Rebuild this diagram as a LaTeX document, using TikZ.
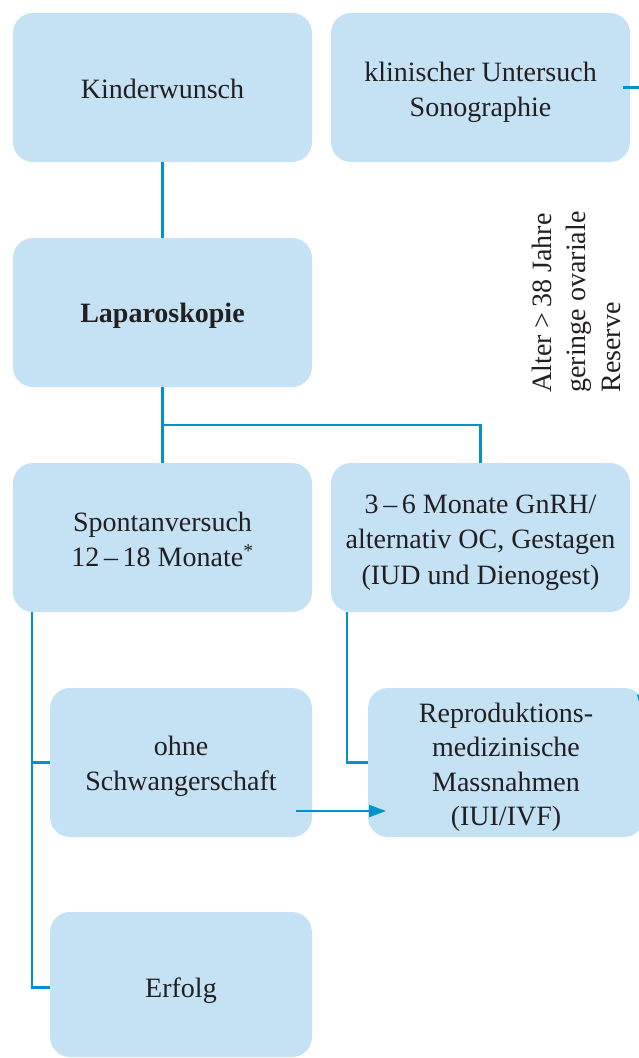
\documentclass[tikz,border=0pt]{standalone}
\usepackage{fontspec}
\setmainfont{Liberation Serif}
\usetikzlibrary{arrows.meta}
\definecolor{boxfill}{HTML}{C4E2F3}
\definecolor{linec}{HTML}{0093CB}
\definecolor{txt}{HTML}{231F20}
\begin{document}
\begin{tikzpicture}[x=1pt,y=-1pt,
  box/.style={rectangle, rounded corners=20pt, fill=boxfill, inner sep=0pt},
  lbl/.style={text=txt, align=center, font=\fontsize{28}{34.5}\selectfont, inner sep=0pt},
  conn/.style={draw=linec, line width=2.2pt},
  tip/.style={-{Triangle[length=17pt,width=12pt]}}
]
\useasboundingbox (0,0) rectangle (639,1058);
\clip (0,0) rectangle (639,1058);
% boxes
\node[box, minimum width=299pt, minimum height=149pt] (kw) at (162.5,87.5) {};
\node[box, minimum width=299pt, minimum height=149pt] (ku) at (480.5,87.5) {};
\node[box, minimum width=299pt, minimum height=149pt] (lap) at (162.5,312.5) {};
\node[box, minimum width=299pt, minimum height=149pt] (spo) at (162.5,537.5) {};
\node[box, minimum width=299pt, minimum height=149pt] (mon) at (480.5,537.5) {};
\node[box, minimum width=262pt, minimum height=149pt] (ohne) at (181,762.5) {};
\node[box, minimum width=262pt, minimum height=145pt] (erf) at (181,984.5) {};
\node[box, minimum width=276pt, minimum height=149pt] (rep) at (506,762.5) {};
% labels
\node[lbl] (kwt) at ([yshift=-1pt]kw.center) {Kinderwunsch};
\node[lbl] (kut) at ([yshift=-5pt]ku.center) {klinischer Untersuch\\Sonographie};
\node[lbl] (lapt) at ([yshift=-3pt]lap.center) {\textbf{Laparoskopie}};
\node[lbl] (spot) at ([yshift=-2pt]spo.center) {Spontanversuch\\12\,–\,18 Monate\textsuperscript{*}};
\node[lbl, font=\fontsize{28}{35.5}\selectfont] (mont) at ([yshift=-5pt]mon.center) {3\,–\,6 Monate GnRH/\\alternativ OC, Gestagen\\(IUD und Dienogest)};
\node[lbl] (ohnet) at ([yshift=-4pt]ohne.center) {ohne\\Schwangerschaft};
\node[lbl] (erft) at ([yshift=-6pt]erf.center) {Erfolg};
\node[lbl] (rept) at ([yshift=-5pt]rep.center) {Reproduktions-\\medizinische\\Massnahmen\\(IUI/IVF)};
% side text
\node[lbl, rotate=90, align=left, font=\fontsize{28}{34.5}\selectfont] (side) at (576,302)
  {Alter >\,38 Jahre\\geringe ovariale\\Reserve};
% helper coordinates
\coordinate (br) at (162.5,425);
\coordinate (sx) at (32,0);
\coordinate (mx) at (347,0);
\coordinate (a0) at (296,811);
\coordinate (a1) at (386,811);
\coordinate (kuE) at (650,87.5);
\coordinate (t0) at (647,640);
\coordinate (t1) at (642,712);
% connectors
\draw[conn] (kw.south) -- (lap.north);
\draw[conn] (lap.south) -- (spo.north);
\draw[conn] (br) -| (mon.north);
\draw[conn] (spo.south -| sx) |- (ohne.west);
\draw[conn] (spo.south -| sx) |- ([yshift=-3pt]erf.west);
\draw[conn] (mon.south -| mx) |- (rep.west);
\draw[conn, tip, fill=linec] (a0) -- (a1);
\draw[conn] ([xshift=-7pt]ku.east) -- (kuE);
\draw[conn, tip, fill=linec] (t0) -- (t1);
\end{tikzpicture}
\end{document}
